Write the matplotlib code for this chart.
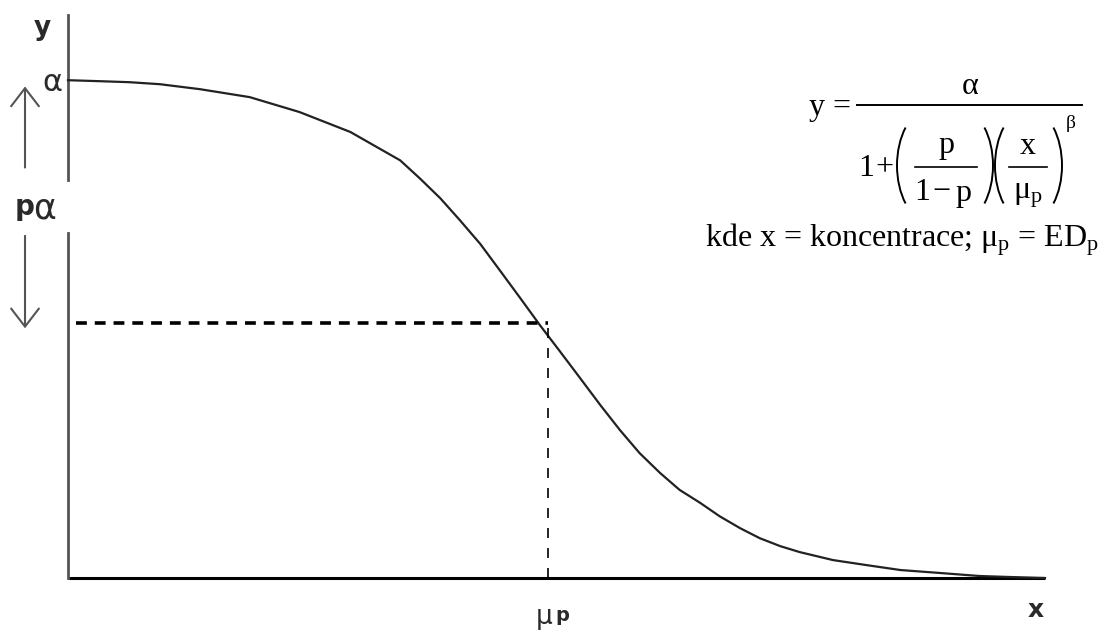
import numpy as np
import matplotlib
matplotlib.use("Agg")
import matplotlib.pyplot as plt
from matplotlib.patches import Arc

plt.rcParams["mathtext.fontset"] = "custom"
plt.rcParams["mathtext.rm"] = "Liberation Serif"
plt.rcParams["mathtext.it"] = "Liberation Serif"
plt.rcParams["mathtext.bf"] = "Liberation Serif:bold"

# dose-response curve: x in % of axis length, y in % of alpha
curve_x = [0.0, 3.3, 6.3, 9.4, 13.5, 18.6, 23.7, 28.9, 34.0, 36.0, 38.1, 40.1,
           42.2, 44.2, 46.3, 48.3, 50.4, 52.4, 54.5, 56.5, 58.5, 60.6, 62.6,
           64.7, 66.7, 68.8, 70.8, 72.9, 74.9, 78.3, 81.7, 85.2, 89.3, 93.3,
           96.4, 100.0]
curve_y = [100.0, 99.8, 99.6, 99.2, 98.2, 96.6, 93.6, 89.6, 83.9, 80.3, 76.3,
           71.9, 67.1, 61.8, 56.2, 50.8, 45.4, 40.2, 34.7, 29.7, 25.1, 21.1,
           17.7, 15.1, 12.4, 10.0, 8.0, 6.4, 5.2, 3.6, 2.6, 1.6, 1.0, 0.4,
           0.2, 0.0]

mu_p = 49.1          # ED_p on the x axis
p_alpha = 51.2       # response level p*alpha
y_top = 113.1        # top of the y axis line
gap = (69.3, 79.9)   # break in the y axis around the p-alpha label

W, H = 1100, 630
fig = plt.figure(figsize=(11, 6.3), dpi=100)
ax = fig.add_axes([68 / W, 52 / H, 977 / W, 563 / H])
ax.set_xlim(0, 100)
ax.set_ylim(0, y_top)
ax.axis("off")

# axes drawn by hand so the y axis can be broken
ax.plot([0, 100], [0, 0], color="black", lw=2.2, clip_on=False, solid_capstyle="butt")
ax.plot([0, 0], [0, gap[0]], color="#555555", lw=2, clip_on=False)
ax.plot([0, 0], [gap[1], y_top], color="#555555", lw=2, clip_on=False)

ax.plot(curve_x, curve_y, color="#222222", lw=1.6, clip_on=False)

# guide lines at (mu_p, p*alpha)
ax.plot([0.8, mu_p], [p_alpha, p_alpha], color="black", lw=2.6,
        linestyle=(0, (3, 2.2)), dash_capstyle="butt")
ax.plot([mu_p, mu_p], [0, p_alpha], color="black", lw=1.2,
        linestyle=(0, (6, 6)))

# range arrows above and below the p-alpha label
arrow_kw = dict(arrowstyle="->,head_length=1.3,head_width=1.0", color="#555555", lw=1.5)
ax.annotate("", xy=(-4.4, 99.3), xytext=(-4.4, 81.9), arrowprops=arrow_kw,
            annotation_clip=False)
ax.annotate("", xy=(-4.4, 49.6), xytext=(-4.4, 69.3), arrowprops=arrow_kw,
            annotation_clip=False)

dark = "#2a2a2a"
ax.text(-2.6, 110.4, "y", fontsize=19, fontweight="bold", ha="center", va="center",
        color=dark, clip_on=False)
ax.text(-1.6, 99.6, "α", fontsize=22, ha="center", va="center", color=dark, clip_on=False)
ax.text(-3.4, 74.5, "p", fontsize=20, fontweight="bold", ha="right", va="center",
        color=dark, clip_on=False)
ax.text(-3.6, 74.3, "α", fontsize=25, ha="left", va="center", color=dark, clip_on=False)
ax.text(49.6, -7.9, "μ", fontsize=19, ha="right", va="center", color=dark, clip_on=False)
ax.text(49.9, -7.5, "p", fontsize=14, fontweight="bold", ha="left", va="center",
        color=dark, clip_on=False)
ax.text(99.0, -6.4, "x", fontsize=18, fontweight="bold", ha="center", va="center",
        color=dark, clip_on=False)

# model formula on an overlay laid out in figure pixels
fa = fig.add_axes([0, 0, 1, 1])
fa.set_xlim(0, W)
fa.set_ylim(H, 0)
fa.axis("off")

serif = dict(family="Liberation Serif", fontsize=23, color="black")


def paren(x0, x1, y0, y1, left=True):
    # bracket drawn as an elliptical arc between x0 and x1
    t0 = 55
    b = (y1 - y0) / 2 / np.sin(np.radians(t0))
    a = (x1 - x0) / (1 - np.cos(np.radians(t0)))
    cy = (y0 + y1) / 2
    if left:
        arc = Arc((x0 + a, cy), 2 * a, 2 * b, theta1=180 - t0, theta2=180 + t0,
                  color="black", lw=1.4)
    else:
        arc = Arc((x1 - a, cy), 2 * a, 2 * b, theta1=-t0, theta2=t0,
                  color="black", lw=1.4)
    fa.add_patch(arc)


fa.text(851, 107, "y =", ha="right", va="center", **serif)
fa.plot([857, 1082], [105, 105], color="black", lw=1.4)
fa.text(970, 86, "α", ha="center", va="center", **serif)

fa.text(858, 168, "1", ha="left", va="center", **serif)
fa.text(884, 168, "+", ha="center", va="center", **serif)
paren(897, 912, 118, 213, left=True)
fa.text(946, 146, "p", ha="center", va="center", **serif)
fa.plot([915, 977], [167, 167], color="black", lw=1.2)
fa.text(922, 193, "1", ha="center", va="center", **serif)
fa.text(941, 193, "−", ha="center", va="center", **serif)
fa.text(963, 193, "p", ha="center", va="center", **serif)
paren(978, 993, 118, 213, left=False)

paren(995, 1010, 118, 213, left=True)
fa.text(1028, 146, "x", ha="center", va="center", **serif)
fa.plot([1009, 1047], [167, 167], color="black", lw=1.2)
fa.text(1028, 194, r"$\mu_{\mathrm{p}}$", ha="center", va="center", fontsize=23)
paren(1047, 1062, 118, 213, left=False)
fa.text(1071, 123, "β", ha="center", va="center", family="Liberation Serif",
        fontsize=14, color="black")

fa.text(902, 240, r"kde x = koncentrace; $\mu_{\mathrm{p}}$ = ED$_{\mathrm{p}}$",
        ha="center", va="center", **serif)

fig.savefig("out.png", dpi=100, facecolor="white")
